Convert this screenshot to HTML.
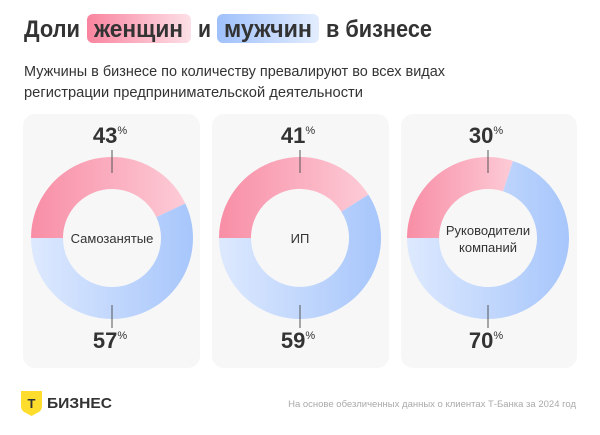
<!DOCTYPE html>
<html><head><meta charset="utf-8"><style>
body{margin:0;width:600px;height:430px;background:#fff;overflow:hidden;font-family:"Liberation Sans",sans-serif;}
</style></head><body>
<svg width="600" height="430" xmlns="http://www.w3.org/2000/svg" font-family="Liberation Sans, sans-serif">
<defs>
<linearGradient id="pk" x1="0" y1="0" x2="1" y2="0"><stop offset="0" stop-color="#f88ea6"/><stop offset="1" stop-color="#fdcbd6"/></linearGradient>
<linearGradient id="bl" x1="0" y1="0" x2="1" y2="0"><stop offset="0" stop-color="#dde9fe"/><stop offset="1" stop-color="#a7c6fb"/></linearGradient>
<linearGradient id="tp" x1="0" y1="0" x2="1" y2="0"><stop offset="0" stop-color="#f9849f"/><stop offset="1" stop-color="#fde0e7"/></linearGradient>
<linearGradient id="tb" x1="0" y1="0" x2="1" y2="0"><stop offset="0" stop-color="#9fc0fb"/><stop offset="1" stop-color="#e3edfe"/></linearGradient>
</defs>
<rect x="87" y="14" width="104" height="29" rx="6" fill="url(#tp)"/>
<rect x="217" y="14" width="102" height="29" rx="6" fill="url(#tb)"/>
<g font-size="24" font-weight="bold" fill="#333">
<text x="24" y="37" textLength="56" lengthAdjust="spacingAndGlyphs">Доли</text>
<text x="94" y="37" textLength="89" lengthAdjust="spacingAndGlyphs">женщин</text>
<text x="198" y="37" textLength="13" lengthAdjust="spacingAndGlyphs">и</text>
<text x="224" y="37" textLength="88" lengthAdjust="spacingAndGlyphs">мужчин</text>
<text x="326" y="37" textLength="106" lengthAdjust="spacingAndGlyphs">в бизнесе</text>
</g>
<text x="24" y="76" font-size="15" fill="#333" textLength="421" lengthAdjust="spacingAndGlyphs">Мужчины в бизнесе по количеству превалируют во всех видах</text>
<text x="24" y="97" font-size="15" fill="#333" textLength="339" lengthAdjust="spacingAndGlyphs">регистрации предпринимательской деятельности</text>

<rect x="23" y="114" width="177" height="254" rx="12" fill="#f7f7f7"/>
<rect x="212" y="114" width="177" height="254" rx="12" fill="#f7f7f7"/>
<rect x="401" y="114" width="176" height="254" rx="12" fill="#f7f7f7"/>

<g transform="translate(112,238)">
<path d="M-81,0 A81,81 0 0 1 73.3,-34.5 L44.3,-20.9 A49,49 0 0 0 -49,0 Z" fill="url(#pk)"/>
<path d="M73.3,-34.5 A81,81 0 1 1 -81,0 L-49,0 A49,49 0 1 0 44.3,-20.9 Z" fill="url(#bl)"/>
<line x1="0" y1="-88" x2="0" y2="-65" stroke="#555" stroke-width="1"/>
<line x1="0" y1="67" x2="0" y2="90" stroke="#555" stroke-width="1"/>
<text x="-2" y="-95" font-size="22" font-weight="bold" fill="#333" text-anchor="middle">43<tspan font-size="11" font-weight="normal" dy="-9">%</tspan></text>
<text x="-2" y="110" font-size="22" font-weight="bold" fill="#333" text-anchor="middle">57<tspan font-size="11" font-weight="normal" dy="-9">%</tspan></text>
<text x="0" y="5" font-size="13" fill="#333" text-anchor="middle">Самозанятые</text>
</g>
<g transform="translate(300,238)">
<path d="M-81,0 A81,81 0 0 1 68.4,-43.4 L41.4,-26.3 A49,49 0 0 0 -49,0 Z" fill="url(#pk)"/>
<path d="M68.4,-43.4 A81,81 0 1 1 -81,0 L-49,0 A49,49 0 1 0 41.4,-26.3 Z" fill="url(#bl)"/>
<line x1="0" y1="-88" x2="0" y2="-65" stroke="#555" stroke-width="1"/>
<line x1="0" y1="67" x2="0" y2="90" stroke="#555" stroke-width="1"/>
<text x="-2" y="-95" font-size="22" font-weight="bold" fill="#333" text-anchor="middle">41<tspan font-size="11" font-weight="normal" dy="-9">%</tspan></text>
<text x="-2" y="110" font-size="22" font-weight="bold" fill="#333" text-anchor="middle">59<tspan font-size="11" font-weight="normal" dy="-9">%</tspan></text>
<text x="0" y="5" font-size="13" fill="#333" text-anchor="middle">ИП</text>
</g>
<g transform="translate(488,238)">
<path d="M-81,0 A81,81 0 0 1 25,-77 L15.1,-46.6 A49,49 0 0 0 -49,0 Z" fill="url(#pk)"/>
<path d="M25,-77 A81,81 0 1 1 -81,0 L-49,0 A49,49 0 1 0 15.1,-46.6 Z" fill="url(#bl)"/>
<line x1="0" y1="-88" x2="0" y2="-65" stroke="#555" stroke-width="1"/>
<line x1="0" y1="67" x2="0" y2="90" stroke="#555" stroke-width="1"/>
<text x="-2" y="-95" font-size="22" font-weight="bold" fill="#333" text-anchor="middle">30<tspan font-size="11" font-weight="normal" dy="-9">%</tspan></text>
<text x="-2" y="110" font-size="22" font-weight="bold" fill="#333" text-anchor="middle">70<tspan font-size="11" font-weight="normal" dy="-9">%</tspan></text>
<text x="0" y="-3" font-size="13" fill="#333" text-anchor="middle">Руководители</text>
<text x="0" y="14" font-size="13" fill="#333" text-anchor="middle">компаний</text>
</g>

<path d="M21,391 H42 V406 Q42,411 37,413 L31.5,416 L26,413 Q21,411 21,406 Z" fill="#ffdd2d"/>
<text x="31.5" y="408" font-size="13" font-weight="bold" fill="#333" text-anchor="middle">Т</text>
<text x="47" y="408" font-size="15" font-weight="bold" fill="#333" textLength="65" lengthAdjust="spacingAndGlyphs">БИЗНЕС</text>
<text x="576" y="407" font-size="9.5" fill="#aaa" text-anchor="end">На основе обезличенных данных о клиентах Т-Банка за 2024 год</text>
</svg>
</body></html>
